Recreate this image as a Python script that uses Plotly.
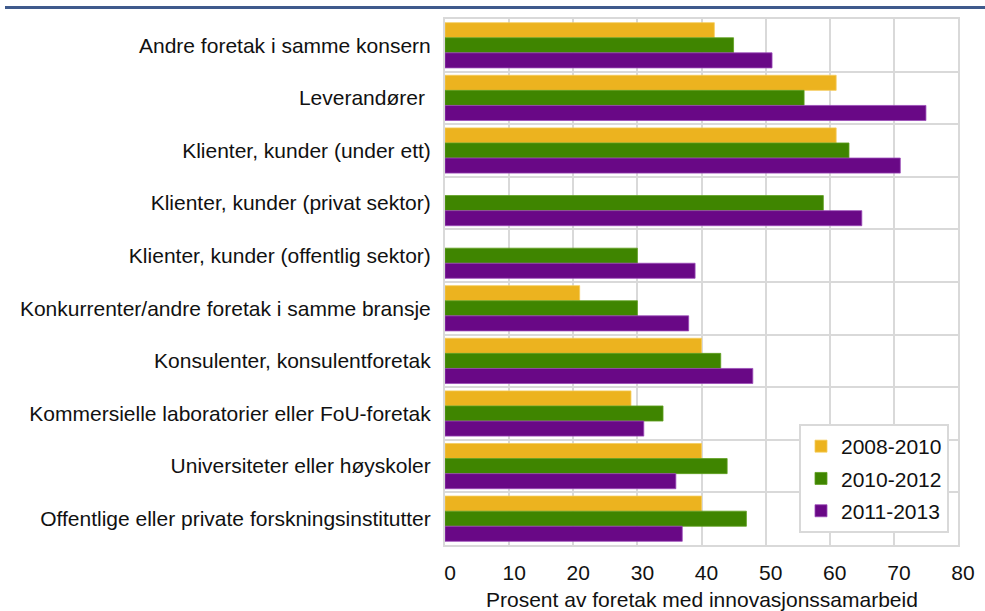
import plotly.graph_objects as go

categories = [
    "Andre foretak i samme konsern",
    "Leverandører ",
    "Klienter, kunder (under ett)",
    "Klienter, kunder (privat sektor)",
    "Klienter, kunder (offentlig sektor)",
    "Konkurrenter/andre foretak i samme bransje",
    "Konsulenter, konsulentforetak",
    "Kommersielle laboratorier eller FoU-foretak",
    "Universiteter eller høyskoler",
    "Offentlige eller private forskningsinstitutter",
]
series_names = ["2008-2010", "2010-2012", "2011-2013"]
v_2008_2010 = [42, 61, 61, None, None, 21, 40, 29, 40, 40]
v_2010_2012 = [45, 56, 63, 59, 30, 30, 43, 34, 44, 47]
v_2011_2013 = [51, 75, 71, 65, 39, 38, 48, 31, 36, 37]
x_title = "Prosent av foretak med innovasjonssamarbeid"
colors = ["#ECB31F", "#3F8500", "#690886"]
edges = ["#F5CC5A", "#5FA020", "#9A4AB8"]

fig = go.Figure()
for i, (name, vals) in enumerate(zip(series_names, [v_2008_2010, v_2010_2012, v_2011_2013])):
    fig.add_trace(go.Bar(
        y=categories, x=vals, name=name, orientation="h",
        marker=dict(color=colors[i], line=dict(color=edges[i], width=0.8)),
        legendgroup=name,
    ))

# plot area is 513 x 526 px
fig.update_layout(
    width=985, height=611,
    margin=dict(l=445, r=27, t=19, b=66),
    paper_bgcolor="white", plot_bgcolor="white",
    barmode="group", bargap=0.14, bargroupgap=0,
    font=dict(family="Liberation Sans, Arial", size=21, color="#111"),
    legend=dict(
        x=(799 - 445) / 513, y=(545 - 424) / 526, xanchor="left", yanchor="top",
        bordercolor="#D9D9D9", borderwidth=2, bgcolor="white",
        font=dict(size=21), tracegroupgap=2,
    ),
    xaxis=dict(
        range=[0, 80], dtick=10, showgrid=True, gridcolor="#D9D9D9", gridwidth=2,
        zeroline=False, showline=True, linecolor="#D9D9D9", linewidth=2, mirror=True,
        ticklabelstandoff=8, ticklabelshift=5, automargin=False,
    ),
    yaxis=dict(
        autorange="reversed", tickson="boundaries", showgrid=True,
        gridcolor="#D9D9D9", gridwidth=2, showline=True, linecolor="#D9D9D9",
        linewidth=2, mirror=True, ticks="", ticklabelstandoff=8, automargin=False,
    ),
    annotations=[dict(text=x_title, xref="paper", yref="paper", x=0.5, y=-54 / 526,
                      xanchor="center", yanchor="middle", showarrow=False)],
    shapes=[dict(type="line", xref="paper", yref="paper",
                 x0=-440 / 513, x1=540 / 513, y0=1 + 11.5 / 526, y1=1 + 11.5 / 526,
                 line=dict(color="#3F5A8C", width=3))],
)

fig.write_html("out.html", config={"displayModeBar": False},
               post_script="document.body.style.margin='0';")
